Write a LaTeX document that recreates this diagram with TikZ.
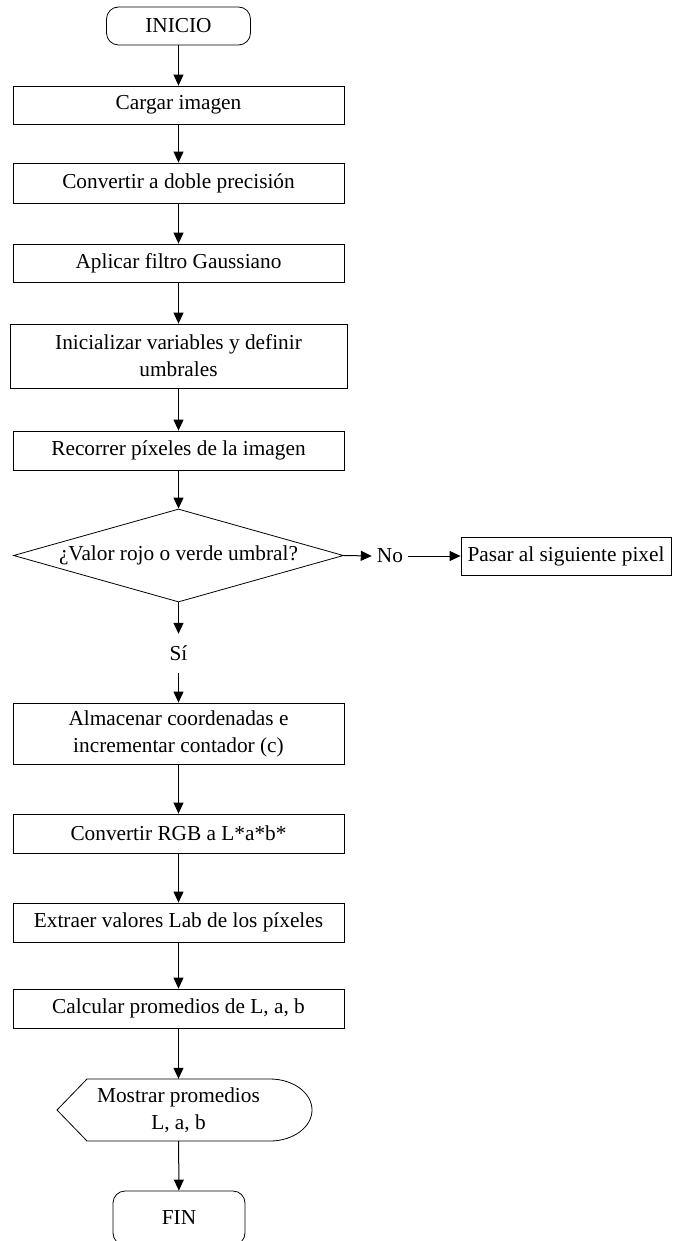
\documentclass[tikz,border=0pt]{standalone}
\usepackage{fontspec}
\setmainfont{Liberation Serif}
\usetikzlibrary{shapes.geometric, arrows.meta}
\tikzstyle{terminal} = [rectangle, rounded corners=12pt, minimum width=144pt, minimum height=38pt, text centered, draw=black, line width=0.8pt]
\tikzstyle{process} = [rectangle, minimum width=331pt, minimum height=39pt, inner sep=0, align=center, draw=black, line width=0.8pt]
\tikzstyle{decision} = [diamond, aspect=3.5, minimum width=330pt, minimum height=93pt, inner sep=0, text centered, draw=black, line width=0.8pt]
\tikzstyle{rotulo} = [inner sep=0, minimum height=39pt]
\tikzstyle{arrow} = [line width=1pt,-{Triangle[length=11pt,width=10pt]}]

\begin{document}
\begin{tikzpicture}[x=1pt,y=-1pt,font=\fontsize{21.3}{27}\selectfont]
\useasboundingbox (0,0) rectangle (673,1241);

\node (inicio) [terminal] at (178.5,26) {INICIO};
\node (cargar) [process, minimum height=38pt] at (178.5,105) {Cargar imagen};
\node (doble) [process, minimum height=40pt] at (178.5,183) {Convertir a doble precisión};
\node (gauss) [process, minimum height=38pt] at (178.5,263) {Aplicar filtro Gaussiano};
\node (init) [process, minimum width=337pt, minimum height=64pt] at (178.5,356) {Inicializar variables y definir\\umbrales};
\node (recorrer) [process] at (178.5,450.5) {Recorrer píxeles de la imagen};
\node (valor) [decision] at (178.5,555.5) {¿Valor rojo o verde umbral?};
\node (no) [rotulo, inner xsep=5pt] at (390,556) {No};
\node (pasar) [process, minimum width=210pt, minimum height=38pt] at (566,556) {Pasar al siguiente pixel};
\node (si) [rotulo] at (178.5,653.5) {Sí};
\node (almacenar) [process, minimum height=61pt] at (178.5,733.5) {Almacenar coordenadas e\\incrementar contador (c)};
\node (rgb) [process] at (178.5,833.5) {Convertir RGB a L*a*b*};
\node (extraer) [process] at (178.5,922.5) {Extraer valores Lab de los píxeles};
\node (calcular) [process] at (178.5,1008.5) {Calcular promedios de L, a, b};
\node (mostrar) [inner sep=0, minimum height=62pt, align=center] at (178.5,1110) {Mostrar promedios\\L, a, b};
\node (fin) [terminal, minimum width=132pt, minimum height=54pt] at (179,1218) {FIN};

% salida por pantalla
\draw[line width=0.8pt] (57,1110)--(87,1079)--(270,1079)
  arc[start angle=-90,end angle=90,x radius=42,y radius=31]--(87,1141)--cycle;

\draw[arrow] (inicio)--(cargar);
\draw[arrow] (cargar)--(doble);
\draw[arrow] (doble)--(gauss);
\draw[arrow] (gauss)--(init);
\draw[arrow] (init)--(recorrer);
\draw[arrow] (recorrer)--(valor);
\draw[arrow] (valor.east)--(no.west);
\draw[arrow] (no.east)--(pasar.west);
\draw[arrow] (valor.south)--(si.north);
\draw[arrow] (si.south)--(almacenar.north);
\draw[arrow] (almacenar)--(rgb);
\draw[arrow] (rgb)--(extraer);
\draw[arrow] (extraer)--(calcular);
\draw[arrow] (calcular)--(mostrar);
\draw[arrow] (mostrar)--(fin);
\end{tikzpicture}
\end{document}
